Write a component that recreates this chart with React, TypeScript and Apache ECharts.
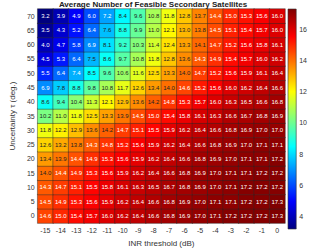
import React, { useEffect, useRef } from "react";
import * as echarts from "echarts";

const xLabels = ["-15", "-14", "-13", "-12", "-11", "-10", "-9", "-8", "-7", "-6", "-5", "-4", "-3", "-2", "-1", "0"];
const yLabels = ["0", "5", "10", "15", "20", "25", "30", "35", "40", "45", "50", "55", "60", "65", "70"];

// rows listed from uncertainty 0 up to 70
const row0 = [14.6, 15.0, 15.4, 15.7, 16.0, 16.2, 16.4, 16.6, 16.8, 16.9, 17.0, 17.1, 17.2, 17.2, 17.2, 17.3];
const row5 = [14.5, 14.9, 15.3, 15.6, 15.9, 16.2, 16.4, 16.6, 16.8, 16.9, 17.0, 17.1, 17.1, 17.2, 17.2, 17.3];
const row10 = [14.3, 14.7, 15.1, 15.5, 15.8, 16.1, 16.3, 16.5, 16.7, 16.8, 16.9, 17.0, 17.1, 17.2, 17.2, 17.2];
const row15 = [14.0, 14.4, 14.9, 15.3, 15.6, 15.9, 16.2, 16.4, 16.6, 16.8, 16.9, 17.0, 17.1, 17.1, 17.2, 17.2];
const row20 = [13.4, 13.9, 14.4, 14.9, 15.3, 15.6, 15.9, 16.2, 16.4, 16.6, 16.8, 16.9, 17.0, 17.1, 17.1, 17.2];
const row25 = [12.6, 13.2, 13.8, 14.3, 14.8, 15.2, 15.6, 15.9, 16.2, 16.4, 16.6, 16.8, 16.9, 17.0, 17.1, 17.1];
const row30 = [11.8, 12.2, 12.9, 13.6, 14.2, 14.7, 15.1, 15.5, 15.9, 16.2, 16.4, 16.6, 16.8, 16.9, 17.0, 17.0];
const row35 = [10.2, 11.0, 11.8, 12.5, 13.3, 13.9, 14.5, 15.0, 15.4, 15.8, 16.1, 16.3, 16.6, 16.7, 16.8, 16.9];
const row40 = [8.6, 9.4, 10.4, 11.3, 12.1, 12.9, 13.6, 14.2, 14.8, 15.3, 15.7, 16.0, 16.3, 16.5, 16.6, 16.8];
const row45 = [6.9, 7.8, 8.8, 9.8, 10.8, 11.7, 12.6, 13.4, 14.0, 14.6, 15.2, 15.6, 16.0, 16.2, 16.4, 16.6];
const row50 = [5.5, 6.4, 7.4, 8.5, 9.6, 10.6, 11.6, 12.5, 13.3, 14.0, 14.7, 15.2, 15.6, 15.9, 16.1, 16.4];
const row55 = [4.5, 5.3, 6.4, 7.5, 8.6, 9.7, 10.8, 11.8, 12.8, 13.6, 14.3, 14.9, 15.4, 15.7, 16.0, 16.2];
const row60 = [4.0, 4.7, 5.8, 6.9, 8.1, 9.2, 10.3, 11.4, 12.4, 13.3, 14.1, 14.7, 15.2, 15.6, 15.8, 16.1];
const row65 = [3.5, 4.3, 5.2, 6.4, 7.6, 8.8, 9.9, 11.0, 12.1, 13.0, 13.8, 14.5, 15.1, 15.4, 15.7, 16.0];
const row70 = [3.2, 3.9, 4.9, 6.0, 7.2, 8.4, 9.6, 10.8, 11.8, 12.8, 13.7, 14.4, 15.0, 15.3, 15.6, 16.0];

const rows = [row0, row5, row10, row15, row20, row25, row30, row35, row40, row45, row50, row55, row60, row65, row70];

const colorTicks = [4, 6, 8, 10, 12, 14, 16];
const vMin = 3.2;
const vMax = 17.3;

const jet = ["#00007F", "#0000FF", "#007FFF", "#00FFFF", "#7FFF7F", "#FFFF00", "#FF7F00", "#FF0000", "#7F0000"];

export default function App() {
  const ref = useRef<HTMLDivElement>(null);
  useEffect(() => {
    if (!ref.current) return;
    const chart = echarts.init(ref.current, undefined, { renderer: "svg" });
    const data: any[] = [];
    rows.forEach((r, yi) =>
      r.forEach((v, xi) => {
        const light = v < 7.45 || v > 14.25;
        data.push({ value: [xi, yi, v], label: { color: light ? "#ffffff" : "#222222" } });
      })
    );
    const font = "Liberation Sans, Arial, sans-serif";
    const option: any = {
      animation: false,
      backgroundColor: "#ffffff",
      title: {
        text: "Average Number of Feasible Secondary Satellites",
        left: 153,
        textAlign: "center",
        top: 0,
        padding: 0,
        textStyle: { fontSize: 8, lineHeight: 8, fontWeight: "bold", color: "#222", fontFamily: font },
      },
      grid: [
        { left: 21, right: 25, top: 9, bottom: 24 },
        { left: 288, width: 11, top: 9, bottom: 23 },
      ],
      xAxis: [
        {
          type: "category",
          gridIndex: 0,
          data: xLabels,
          name: "INR threshold (dB)",
          nameLocation: "middle",
          nameGap: 15,
          nameTextStyle: { fontSize: 8, color: "#333", fontFamily: font },
          axisLine: { show: false },
          axisTick: { show: false },
          axisLabel: { fontSize: 7, color: "#333", margin: 4, fontFamily: font },
          splitLine: { show: false },
        },
        { type: "value", gridIndex: 1, min: 0, max: 1, show: false },
      ],
      yAxis: [
        {
          type: "category",
          gridIndex: 0,
          data: yLabels,
          name: "Uncertainty τ (deg.)",
          nameLocation: "middle",
          nameGap: 15,
          nameTextStyle: { fontSize: 8, color: "#333", fontFamily: font },
          axisLine: { show: false },
          axisTick: { show: false },
          axisLabel: { fontSize: 7, color: "#333", margin: 3, fontFamily: font },
          splitLine: { show: false },
        },
        {
          type: "value",
          gridIndex: 1,
          min: vMin,
          max: vMax,
          position: "right",
          axisLine: { show: false },
          axisTick: { show: true, customValues: colorTicks, length: 2, inside: false, lineStyle: { color: "#333", width: 0.6 } },
          axisLabel: { customValues: colorTicks, fontSize: 7, color: "#333", margin: 3, fontFamily: font },
          splitLine: { show: false },
        },
      ],
      visualMap: {
        show: false,
        min: vMin,
        max: vMax,
        seriesIndex: 0,
        dimension: 2,
        inRange: { color: jet },
      },
      series: [
        {
          type: "heatmap",
          xAxisIndex: 0,
          yAxisIndex: 0,
          data,
          itemStyle: { borderColor: "rgba(40,40,40,0.75)", borderWidth: 0.6 },
          label: {
            show: true,
            fontSize: 6,
            fontFamily: font,
            formatter: (p: any) => p.value[2].toFixed(1),
          },
        },
        {
          type: "custom",
          xAxisIndex: 1,
          yAxisIndex: 1,
          data: [[0, vMin, vMax]],
          renderItem: (params: any, api: any) => {
            const top = api.coord([0, api.value(2)]);
            const bottom = api.coord([0, api.value(1)]);
            const cs = params.coordSys;
            const stops = jet.map((c, i) => ({ offset: i / (jet.length - 1), color: c })).reverse().map((s) => ({ offset: 1 - s.offset, color: s.color }));
            return {
              type: "rect",
              shape: { x: cs.x, y: top[1], width: cs.width, height: bottom[1] - top[1] },
              style: {
                fill: new echarts.graphic.LinearGradient(0, 0, 0, 1, stops),
                stroke: "#333",
                lineWidth: 0.6,
              },
            };
          },
        },
      ],
    };
    chart.setOption(option);
    return () => chart.dispose();
  }, []);
  return <div ref={ref} style={{ width: 310, height: 252, position: "absolute", left: 0, top: 0 }} />;
}
